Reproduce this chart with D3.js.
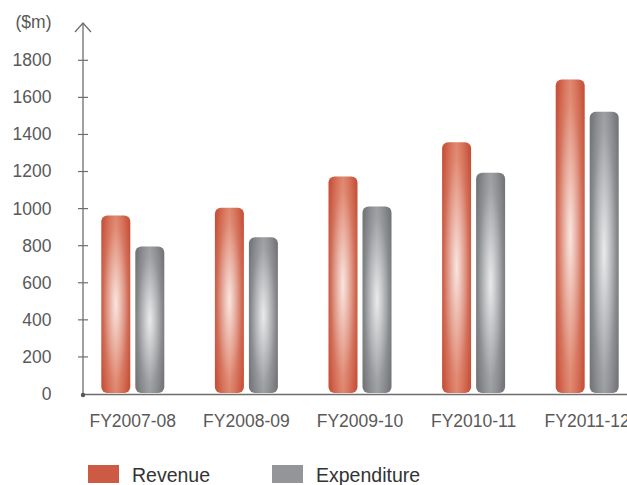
<!DOCTYPE html>
<html>
<head>
<meta charset="utf-8">
<script src="https://cdn.jsdelivr.net/npm/d3@7"></script>
<style>
  html, body { margin: 0; padding: 0; background: #fff; }
  svg { display: block; font-family: "Liberation Sans", Arial, sans-serif; }
</style>
</head>
<body>
<svg id="chart" width="627" height="485"></svg>
<script>
// Revenue and expenditure by financial year, $m
const categories = ["FY2007-08", "FY2008-09", "FY2009-10", "FY2010-11", "FY2011-12"];
const series = ["Revenue", "Expenditure"];
const revenue = [963, 1005, 1173, 1358, 1697];
const expenditure = [796, 845, 1011, 1193, 1523];
const yTicks = [0, 200, 400, 600, 800, 1000, 1200, 1400, 1600, 1800];

const svg = d3.select("#chart");
const axisColor = "#6e6e6e";
const textColor = "#595959";

const originX = 83, originY = 394;
const y = d3.scaleLinear().domain([0, 1800]).range([originY, 60.3]);
const x = d3.scaleBand().domain(categories).range([76, 644]);
const xs = d3.scaleBand().domain(series).range([-31.5, 31.5]).paddingInner(0.147);

const palette = {
  Revenue: { edge: "#c64f37", mid: "#de7d63", swatch: "#cd5b44" },
  Expenditure: { edge: "#727478", mid: "#95979b", swatch: "#939598" }
};

// Gradients: dark edges across the bar, plus a broad white glow at its middle
const defs = svg.append("defs");
series.forEach(s => {
  const lg = defs.append("linearGradient")
    .attr("id", "lin-" + s).attr("x1", "0").attr("x2", "1").attr("y1", "0").attr("y2", "0");
  lg.append("stop").attr("offset", "0").attr("stop-color", palette[s].edge);
  lg.append("stop").attr("offset", "0.5").attr("stop-color", palette[s].mid);
  lg.append("stop").attr("offset", "1").attr("stop-color", palette[s].edge);
});
const glow = defs.append("radialGradient")
  .attr("id", "glow").attr("cx", "0.5").attr("cy", "0.5").attr("r", "0.62");
glow.append("stop").attr("offset", "0").attr("stop-color", "#fff").attr("stop-opacity", 0.8);
glow.append("stop").attr("offset", "0.35").attr("stop-color", "#fff").attr("stop-opacity", 0.45);
glow.append("stop").attr("offset", "0.7").attr("stop-color", "#fff").attr("stop-opacity", 0.12);
glow.append("stop").attr("offset", "1").attr("stop-color", "#fff").attr("stop-opacity", 0);

const rows = categories.map((c, i) => ({ cat: c, values: { Revenue: revenue[i], Expenditure: expenditure[i] } }));

// Bars
const groups = svg.append("g").selectAll("g").data(rows).join("g")
  .attr("transform", d => `translate(${x(d.cat) + x.bandwidth() / 2},0)`);
series.forEach(s => {
  groups.append("rect")
    .attr("x", xs(s)).attr("width", xs.bandwidth())
    .attr("y", d => y(d.values[s])).attr("height", d => y(0) - y(d.values[s]) - 1)
    .attr("rx", 6).attr("ry", 6)
    .attr("fill", `url(#lin-${s})`);
  groups.append("rect")
    .attr("x", xs(s)).attr("width", xs.bandwidth())
    .attr("y", d => y(d.values[s])).attr("height", d => y(0) - y(d.values[s]) - 1)
    .attr("rx", 6).attr("ry", 6)
    .attr("fill", "url(#glow)");
});

// Y axis with arrowhead
const yAxis = svg.append("g");
yAxis.append("line")
  .attr("x1", originX).attr("x2", originX).attr("y1", originY).attr("y2", 23)
  .attr("stroke", axisColor).attr("stroke-width", 1.3);
yAxis.append("path")
  .attr("d", `M${originX - 8},${32} L${originX},${23} L${originX + 8},${32}`)
  .attr("fill", "none").attr("stroke", axisColor).attr("stroke-width", 1.3);
yAxis.selectAll(".tick").data(yTicks.filter(t => t > 0)).join("line")
  .attr("x1", originX - 5).attr("x2", originX + 5)
  .attr("y1", d => y(d)).attr("y2", d => y(d))
  .attr("stroke", axisColor).attr("stroke-width", 1.2);
yAxis.selectAll("text").data(yTicks).join("text")
  .attr("x", 51.5).attr("y", d => y(d)).attr("dy", "0.34em")
  .attr("text-anchor", "end").attr("font-size", 17.5).attr("fill", textColor)
  .text(d => d);
svg.append("text")
  .attr("x", 51.5).attr("y", 27.5).attr("text-anchor", "end")
  .attr("font-size", 17.5).attr("fill", textColor).text("($m)");

// X axis
svg.append("line")
  .attr("x1", originX).attr("x2", 627).attr("y1", originY + 0.5).attr("y2", originY + 0.5)
  .attr("stroke", axisColor).attr("stroke-width", 1.3);
svg.append("circle").attr("cx", originX).attr("cy", originY + 1).attr("r", 2.2).attr("fill", "#555");
svg.append("g").selectAll("text").data(categories).join("text")
  .attr("x", d => x(d) + x.bandwidth() / 2).attr("y", 427)
  .attr("text-anchor", "middle").attr("font-size", 17.5).attr("fill", textColor)
  .text(d => d);

// Legend
const legendX = { Revenue: 88, Expenditure: 272 };
const legend = svg.append("g").selectAll("g").data(series).join("g")
  .attr("transform", d => `translate(${legendX[d]},465)`);
legend.append("rect").attr("width", 31).attr("height", 18).attr("fill", d => palette[d].swatch);
legend.append("text").attr("x", 44).attr("y", 16.5)
  .attr("font-size", 19.5).attr("fill", "#333").text(d => d);
</script>
</body>
</html>
